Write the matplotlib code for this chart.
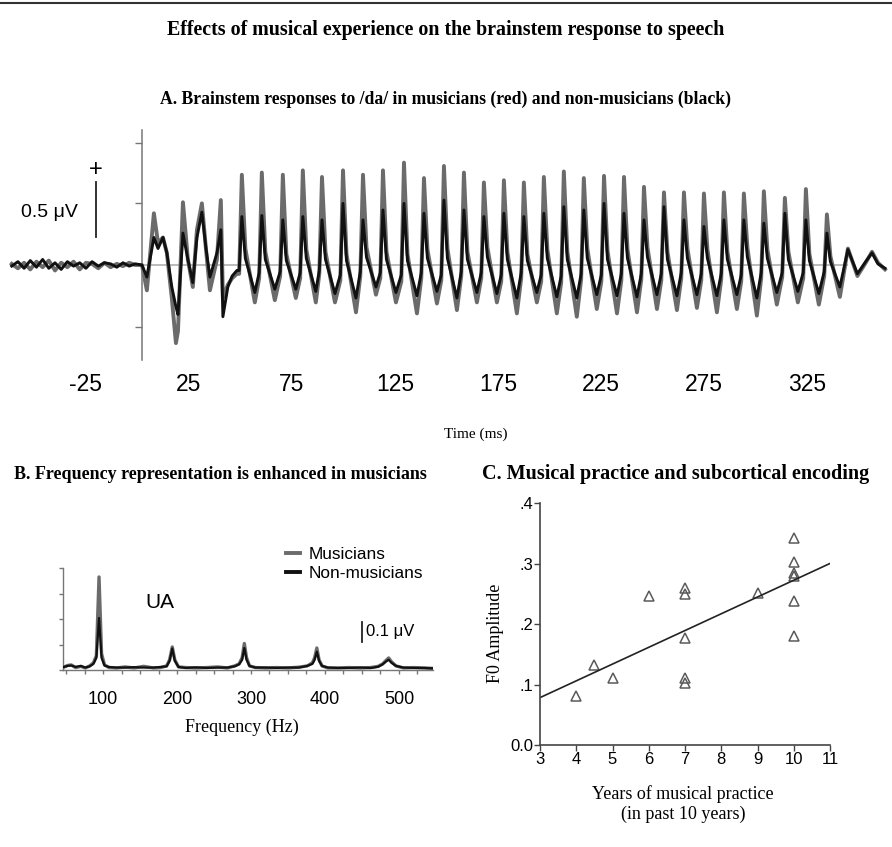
import matplotlib
matplotlib.use("Agg")
import matplotlib.pyplot as plt
from matplotlib.lines import Line2D
import numpy as np

W, H = 892, 847
SANS = "Liberation Sans"
SERIF = "Liberation Serif"

# ---- panel A: brainstem response to /da/ (time in ms, amplitude in uV)
pre_ms = [-61, -58, -55, -52, -49, -46, -43, -40, -37, -34, -31, -28, -25, -22, -19, -16, -13, -10, -7, -4, -1]
mus_pre = [0.01, -0.03, 0.02, -0.04, 0.03, -0.02, 0.04, -0.05, 0.02, -0.02, 0.03, -0.04, 0.02, 0.01, -0.03, 0.02, -0.02, 0.01, -0.01, 0.02, 0.0]
non_pre = [-0.01, 0.03, -0.03, 0.04, -0.02, 0.05, -0.03, 0.02, -0.04, 0.03, -0.01, 0.02, -0.03, 0.03, -0.01, 0.02, 0.01, -0.02, 0.02, -0.01, 0.01]

onset_ms = [2.2, 4.6, 8.0, 10.0, 12.4, 14.3, 16.7, 18.7, 19.7, 22.1, 24.5, 26.9, 28.9, 31.3, 33.3, 35.2, 38.6, 40.5, 41.5, 43.9, 46.0, 48.3]
mus_onset = [0.0, -0.23, 0.47, 0.20, 0.25, 0.11, -0.30, -0.71, -0.60, 0.57, 0.05, -0.20, 0.32, 0.56, 0.14, -0.23, 0.05, 0.59, -0.30, -0.18, -0.12, -0.08]
non_onset = [0.0, -0.11, 0.25, 0.15, 0.25, 0.11, -0.20, -0.38, -0.45, 0.29, 0.05, -0.16, 0.25, 0.48, 0.15, -0.11, 0.11, 0.32, -0.47, -0.20, -0.10, -0.05]

# periodic (F0) part: per cycle a rise, peak, shoulder and trough
rise_ms = [49.4, 59.1, 69.3, 79.0, 88.3, 98.5, 108.2, 117.9, 128.1, 137.8, 147.5, 157.2, 166.9, 176.6, 186.3,
           196.0, 205.7, 215.4, 225.2, 234.9, 244.6, 254.3, 264.0, 273.7, 283.4, 293.1, 302.8, 313.0, 323.2, 333.4]
peak_ms = [50.7, 60.4, 70.6, 80.3, 89.6, 99.8, 109.5, 119.2, 129.4, 139.1, 148.8, 158.5, 168.2, 177.9, 187.6,
           197.3, 207.0, 216.7, 226.5, 236.2, 245.9, 255.6, 265.3, 275.0, 284.7, 294.4, 304.1, 314.3, 324.5, 334.7]
shoulder_ms = [52.4, 62.1, 72.3, 82.0, 91.3, 101.5, 111.2, 120.9, 131.1, 140.8, 150.5, 160.2, 169.9, 179.6, 189.3,
               199.0, 208.7, 218.4, 228.2, 237.9, 247.6, 257.3, 267.0, 276.7, 286.4, 296.1, 305.8, 316.0, 326.2, 336.4]
trough_ms = [57.0, 66.7, 76.9, 86.6, 95.9, 106.1, 115.8, 125.5, 135.7, 145.4, 155.1, 164.8, 174.5, 184.2, 193.9,
             203.6, 213.3, 223.0, 232.8, 242.5, 252.2, 261.9, 271.6, 281.3, 291.0, 300.7, 310.4, 320.6, 330.8, 341.0]
mus_rise = [-0.08, -0.12, -0.10, -0.12, -0.08, -0.14, -0.10, -0.12, -0.15, -0.12, -0.14, -0.10, -0.12, -0.15, -0.12,
            -0.15, -0.16, -0.13, -0.15, -0.14, -0.13, -0.14, -0.12, -0.14, -0.13, -0.15, -0.12, -0.11, -0.12, -0.10]
non_rise = [-0.05, -0.07, -0.06, -0.07, -0.05, -0.09, -0.06, -0.07, -0.09, -0.07, -0.09, -0.06, -0.07, -0.09, -0.07,
            -0.09, -0.10, -0.08, -0.09, -0.08, -0.08, -0.08, -0.07, -0.08, -0.08, -0.09, -0.07, -0.07, -0.07, -0.06]
mus_peak = [0.82, 0.84, 0.82, 0.86, 0.80, 0.86, 0.82, 0.86, 0.93, 0.79, 0.90, 0.84, 0.75, 0.77, 0.75,
            0.80, 0.85, 0.79, 0.81, 0.80, 0.71, 0.66, 0.66, 0.65, 0.66, 0.65, 0.67, 0.61, 0.69, 0.46]
non_peak = [0.44, 0.45, 0.41, 0.44, 0.41, 0.56, 0.41, 0.50, 0.56, 0.47, 0.59, 0.50, 0.44, 0.47, 0.44,
            0.47, 0.53, 0.50, 0.56, 0.47, 0.41, 0.53, 0.41, 0.35, 0.41, 0.41, 0.38, 0.47, 0.41, 0.29]
mus_shoulder = [0.15, 0.12, 0.10, 0.14, 0.12, 0.10, 0.16, 0.12, 0.10, 0.14, 0.15, 0.12, 0.16, 0.12, 0.10,
                0.14, 0.12, 0.15, 0.13, 0.14, 0.16, 0.12, 0.15, 0.14, 0.12, 0.16, 0.14, 0.12, 0.10, 0.08]
non_shoulder = [0.06, 0.05, 0.04, 0.06, 0.05, 0.04, 0.07, 0.05, 0.04, 0.06, 0.06, 0.05, 0.07, 0.05, 0.04,
                0.06, 0.05, 0.06, 0.05, 0.06, 0.07, 0.05, 0.06, 0.06, 0.05, 0.07, 0.06, 0.05, 0.04, 0.03]
mus_trough = [-0.34, -0.32, -0.30, -0.34, -0.34, -0.43, -0.27, -0.34, -0.44, -0.35, -0.41, -0.34, -0.34, -0.44, -0.34,
              -0.44, -0.47, -0.40, -0.44, -0.43, -0.40, -0.41, -0.39, -0.43, -0.40, -0.46, -0.36, -0.34, -0.36, -0.29]
non_trough = [-0.25, -0.22, -0.22, -0.24, -0.26, -0.30, -0.20, -0.25, -0.28, -0.24, -0.30, -0.25, -0.26, -0.30, -0.25,
              -0.29, -0.30, -0.27, -0.28, -0.29, -0.27, -0.28, -0.27, -0.28, -0.27, -0.30, -0.25, -0.24, -0.26, -0.20]

tail_ms = [344.9, 349.5, 353.5, 356.6, 359.5, 362.9]
mus_tail = [0.15, -0.10, 0.02, 0.12, 0.02, -0.04]
non_tail = [0.14, -0.08, 0.03, 0.11, 0.01, -0.03]

time_ticks = [-25, 25, 75, 125, 175, 225, 275, 325]

# ---- panel B: spectrum (Hz, uV)
freq_hz = [46, 52, 57, 63, 70, 76, 82, 87, 91, 94.6, 98, 102, 108, 118, 130, 142, 155, 168, 178, 186,
           190, 193.6, 197, 202, 212, 225, 240, 255, 268, 278, 284, 288, 291, 294, 298, 306, 320, 335, 350, 365,
           376, 383, 386, 389, 392, 396, 404, 418, 432, 448, 462, 472, 478, 482, 486, 490, 496, 506, 520, 534, 546]
mus_spec = [0.012, 0.022, 0.025, 0.012, 0.018, 0.010, 0.020, 0.035, 0.070, 0.456, 0.080, 0.025, 0.012, 0.010, 0.015,
            0.010, 0.018, 0.010, 0.012, 0.020, 0.050, 0.113, 0.050, 0.015, 0.012, 0.010, 0.012, 0.015, 0.010, 0.020,
            0.030, 0.060, 0.130, 0.060, 0.020, 0.012, 0.010, 0.012, 0.010, 0.014, 0.020, 0.035, 0.060, 0.108, 0.050,
            0.020, 0.010, 0.010, 0.012, 0.010, 0.012, 0.018, 0.030, 0.045, 0.059, 0.040, 0.020, 0.010, 0.012, 0.010, 0.008]
non_spec = [0.014, 0.020, 0.022, 0.015, 0.020, 0.012, 0.018, 0.030, 0.060, 0.255, 0.060, 0.022, 0.015, 0.012, 0.012,
            0.014, 0.012, 0.012, 0.015, 0.018, 0.045, 0.105, 0.045, 0.015, 0.010, 0.013, 0.010, 0.012, 0.012, 0.018,
            0.028, 0.050, 0.108, 0.050, 0.020, 0.012, 0.012, 0.010, 0.012, 0.012, 0.020, 0.030, 0.050, 0.090, 0.045,
            0.020, 0.012, 0.010, 0.010, 0.012, 0.010, 0.016, 0.028, 0.040, 0.050, 0.035, 0.020, 0.012, 0.010, 0.010, 0.008]
freq_ticks = [100, 200, 300, 400, 500]

# ---- panel C: musical practice vs F0 amplitude
years = [4, 4.5, 5, 6, 7, 7, 7, 7, 7, 9, 10, 10, 10, 10, 10, 10]
f0_amp = [0.081, 0.132, 0.110, 0.247, 0.259, 0.249, 0.177, 0.110, 0.102, 0.252, 0.342, 0.303, 0.285, 0.279, 0.238, 0.180]
year_ticks = [3, 4, 5, 6, 7, 8, 9, 10, 11]
amp_ticks = [0.0, 0.1, 0.2, 0.3, 0.4]
amp_labels = ["0.0", ".1", ".2", ".3", ".4"]

MUS_COLOR = "#6b6b6b"
NON_COLOR = "#111111"


def px_axes(fig, left, top, right, bottom):
    """add axes given in pixel coordinates of the final image"""
    return fig.add_axes([left / W, 1 - bottom / H, (right - left) / W, (bottom - top) / H])


def fig_text(fig, x, y, s, **kw):
    return fig.text(x / W, 1 - y / H, s, ha="center", va="center", **kw)


fig = plt.figure(figsize=(W / 100, H / 100), dpi=100)
fig.add_artist(Line2D([0, 1], [1 - 3 / H] * 2, color="#333333", lw=1.5))

fig_text(fig, 446, 30, "Effects of musical experience on the brainstem response to speech",
         family=SERIF, weight="bold", fontsize=14.4)
fig_text(fig, 445, 99, "A. Brainstem responses to /da/ in musicians (red) and non-musicians (black)",
         family=SERIF, weight="bold", fontsize=12.7)

# ---------------- panel A
axA = px_axes(fig, 0, 118, 892, 365)
t_all = np.concatenate([pre_ms, onset_ms,
                        np.column_stack([rise_ms, peak_ms, shoulder_ms, trough_ms]).ravel(), tail_ms])
v_mus = np.concatenate([mus_pre, mus_onset,
                        np.column_stack([mus_rise, mus_peak, mus_shoulder, mus_trough]).ravel(), mus_tail])
v_non = np.concatenate([non_pre, non_onset,
                        np.column_stack([non_rise, non_peak, non_shoulder, non_trough]).ravel(), non_tail])

axA.hlines(0, onset_ms[0], tail_ms[0], color="#b5b5b5", lw=1.3, zorder=1)
axA.plot(t_all, v_mus, color=MUS_COLOR, lw=2.8, solid_joinstyle="round", zorder=2)
axA.plot(t_all, v_non, color=NON_COLOR, lw=2.1, solid_joinstyle="round", zorder=3)

axA.set_xlim(-66.7, 366.3)
axA.set_ylim(-0.909, 1.336)
for side in ["top", "right", "bottom"]:
    axA.spines[side].set_visible(False)
axA.spines["left"].set_position(("data", 2.2))
axA.spines["left"].set_bounds(-0.86, 1.23)
axA.spines["left"].set_color("#777777")
axA.spines["left"].set_linewidth(1.1)
axA.set_yticks([-0.56, 0, 0.56, 1.11])
axA.set_yticklabels([])
axA.tick_params(axis="y", direction="out", length=5, color="#777777", width=1)
axA.set_xticks(time_ticks)
axA.set_xticklabels([str(t) for t in time_ticks], family=SANS, fontsize=16.5)
axA.tick_params(axis="x", length=0, pad=6)
axA.patch.set_alpha(0)

# 0.5 uV scale bar
axA.plot([-20.1, -20.1], [0.255, 0.75], color="#222222", lw=1.3)
axA.text(-20.1, 0.86, "+", ha="center", va="center", family=SANS, fontsize=17)
axA.text(-28.9, 0.48, "0.5 \u03bcV", ha="right", va="center", family=SANS, fontsize=14)

fig_text(fig, 476, 434, "Time (ms)", family=SERIF, fontsize=11)

# ---------------- panel B
fig_text(fig, 220, 474, "B. Frequency representation is enhanced in musicians",
         family=SERIF, weight="bold", fontsize=13)
axB = px_axes(fig, 63, 568, 433, 670)
axB.plot(freq_hz, mus_spec, color=MUS_COLOR, lw=2.4, label="Musicians", zorder=2)
axB.plot(freq_hz, non_spec, color=NON_COLOR, lw=1.6, label="Non-musicians", zorder=3)
axB.set_xlim(45.9, 546)
axB.set_ylim(0, 0.5)
for side in ["top", "right"]:
    axB.spines[side].set_visible(False)
for side in ["left", "bottom"]:
    axB.spines[side].set_color("#777777")
    axB.spines[side].set_linewidth(1)
axB.set_yticks([0, 0.125, 0.25, 0.375, 0.5])
axB.set_yticklabels([])
axB.set_xticks(freq_ticks)
axB.set_xticklabels([str(f) for f in freq_ticks], family=SANS, fontsize=13)
axB.set_xticks(np.arange(50, 546, 25), minor=True)
axB.tick_params(which="both", direction="out", length=3, color="#777777", width=1)
axB.tick_params(axis="x", which="major", pad=12)
axB.text(177, 0.333, "UA", ha="center", va="center", family=SANS, fontsize=15)
axB.plot([450, 450], [0.137, 0.235], color="#222222", lw=1.3)
axB.text(456, 0.19, "0.1 \u03bcV", ha="left", va="center", family=SANS, fontsize=12)
leg = axB.legend(loc="upper left", bbox_to_anchor=(0.603, 1.21), frameon=False, handlelength=0.8,
                 handletextpad=0.5, labelspacing=0.25, borderaxespad=0, borderpad=0,
                 prop={"family": SANS, "size": 12.4})
for line in leg.get_lines():
    line.set_linewidth(2.8)
fig_text(fig, 242, 727, "Frequency (Hz)", family=SERIF, fontsize=13)

# ---------------- panel C
fig_text(fig, 676, 474, "C. Musical practice and subcortical encoding",
         family=SERIF, weight="bold", fontsize=14.5)
axC = px_axes(fig, 540, 503, 830, 745)
axC.plot(years, f0_amp, ls="none", marker="^", mfc="none", mec="#5a5a5a", ms=7, mew=1.1, clip_on=False)
fit = np.polyfit(years, f0_amp, 1)
xs = np.array(year_ticks[:1] + year_ticks[-1:], dtype=float)
axC.plot(xs, np.polyval(fit, xs), color="#222222", lw=1.2)
axC.set_xlim(3, 11)
axC.set_ylim(0, 0.4)
for side in ["top", "right"]:
    axC.spines[side].set_visible(False)
for side in ["left", "bottom"]:
    axC.spines[side].set_color("#444444")
    axC.spines[side].set_linewidth(1.2)
axC.set_xticks(year_ticks)
axC.set_xticklabels([str(y) for y in year_ticks], family=SANS, fontsize=12)
axC.set_yticks(amp_ticks)
axC.set_yticklabels(amp_labels, family=SANS, fontsize=12)
axC.tick_params(direction="out", length=4, color="#444444", width=1, pad=1)
fig_text(fig, 495, 633, "F0 Amplitude", family=SERIF, fontsize=13, rotation=90)
fig_text(fig, 683, 804, "Years of musical practice\n(in past 10 years)", family=SERIF, fontsize=13,
         linespacing=1.2)

fig.savefig("out.png", dpi=100)
